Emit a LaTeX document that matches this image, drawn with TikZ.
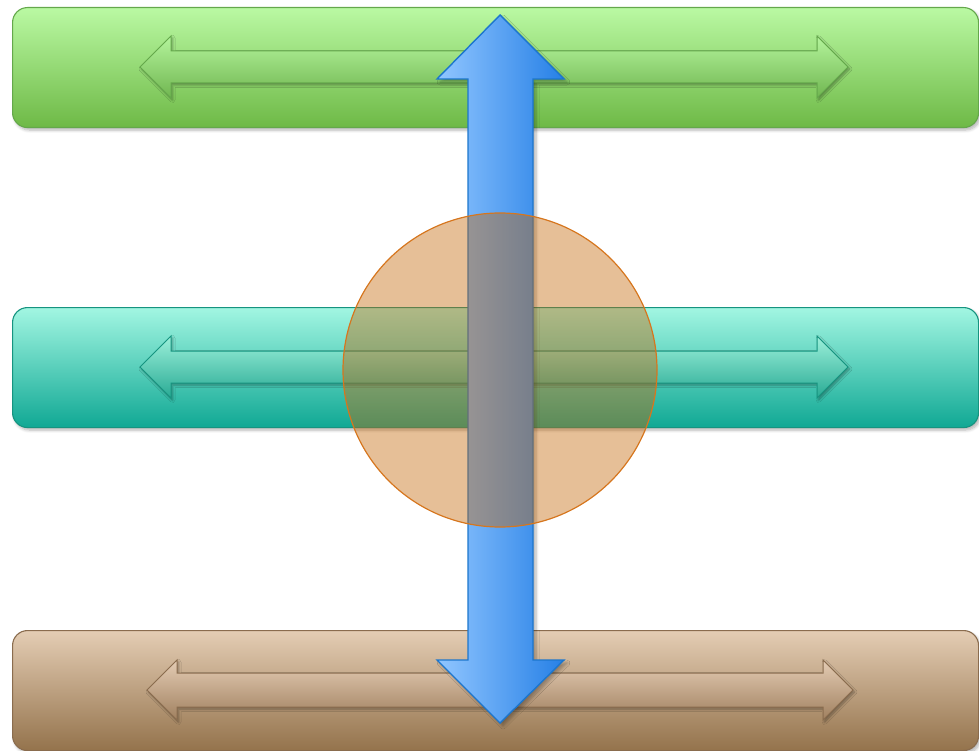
\documentclass[tikz,border=0pt]{standalone}
\usetikzlibrary{shadows.blur}
\definecolor{gtop}{RGB}{186,249,163}
\definecolor{gbot}{RGB}{110,185,70}
\definecolor{gbord}{RGB}{100,168,75}
\definecolor{gatop}{RGB}{180,244,156}
\definecolor{gabot}{RGB}{112,182,80}
\definecolor{ttop}{RGB}{162,246,226}
\definecolor{tbot}{RGB}{16,168,148}
\definecolor{tbord}{RGB}{22,148,128}
\definecolor{tatop}{RGB}{156,240,218}
\definecolor{tabot}{RGB}{40,170,148}
\definecolor{btop}{RGB}{228,205,180}
\definecolor{bbot}{RGB}{148,115,76}
\definecolor{bbord}{RGB}{138,108,78}
\definecolor{batop}{RGB}{228,204,180}
\definecolor{babot}{RGB}{160,128,95}
\definecolor{bluel}{RGB}{145,198,255}
\definecolor{blued}{RGB}{38,128,230}
\definecolor{bluebord}{RGB}{28,118,205}
\definecolor{orfill}{RGB}{196,102,8}
\definecolor{orbord}{RGB}{214,118,30}
\newcommand\hdarr[6]{%
  \path[#1] (#2,#4) -- ({#2+#6},{#4-#6}) -- ({#2+#6},{#4-#5}) -- ({#3-#6},{#4-#5})
    -- ({#3-#6},{#4-#6}) -- (#3,#4) -- ({#3-#6},{#4+#6}) -- ({#3-#6},{#4+#5})
    -- ({#2+#6},{#4+#5}) -- ({#2+#6},{#4+#6}) -- cycle;}
\tikzset{
  barbox/.style n args={3}{rounded corners=15pt, draw=#3, line width=1.1pt,
    top color=#1, bottom color=#2, inner sep=0pt, minimum width=966pt,
    minimum height=120pt, anchor=north west,
    blur shadow={shadow xshift=2pt, shadow yshift=-2.5pt, shadow opacity=30,
      shadow blur radius=3pt, shadow blur steps=6}},
  harr/.style n args={3}{draw=#3, line width=1pt, top color=#1, bottom color=#2,
    blur shadow={shadow xshift=1.5pt, shadow yshift=-2pt, shadow opacity=35,
      shadow blur radius=2.5pt, shadow blur steps=5}},
  varr/.style={draw=bluebord, line width=1.4pt, left color=bluel, right color=blued,
    blur shadow={shadow xshift=3pt, shadow yshift=-3pt, shadow opacity=30,
      shadow blur radius=3pt, shadow blur steps=6}},
  orb/.style={circle, minimum size=314pt, inner sep=0pt, draw=orbord,
    line width=1.2pt, fill=orfill, fill opacity=0.42, draw opacity=1}
}
\begin{document}
\begin{tikzpicture}[x=1pt,y=-1pt]
\useasboundingbox (0,0) rectangle (979,751);
% bars
\node[barbox={gtop}{gbot}{gbord}] (gbar) at (12,7) {};
\node[barbox={ttop}{tbot}{tbord}] (tbar) at (12,307) {};
\node[barbox={btop}{bbot}{bbord}] (bbar) at (12,630) {};
% horizontal double arrows
\hdarr{harr={gatop}{gabot}{gbord}}{140}{848}{67}{16}{31}
\hdarr{harr={tatop}{tabot}{tbord}}{140}{848}{367}{16}{31}
\hdarr{harr={batop}{babot}{bbord}}{147}{853}{690}{17}{30}
% vertical blue double arrow
\path[varr] (500,15) -- (564,79) -- (533,79) -- (533,660) -- (564,660) -- (500,723)
  -- (437,660) -- (468,660) -- (468,79) -- (437,79) -- cycle;
% circle
\node[orb] (orb) at (500,370) {};
\end{tikzpicture}
\end{document}
